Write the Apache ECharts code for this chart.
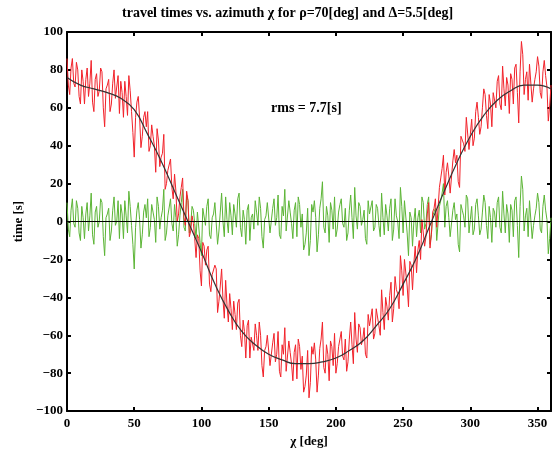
<!DOCTYPE html>
<html>
<head>
<meta charset="utf-8">
<script src="https://cdn.jsdelivr.net/npm/echarts@6/dist/echarts.min.js"></script>
<style>
  html, body { margin: 0; padding: 0; background: #fff; }
  #container { width: 560px; height: 453px; }
</style>
</head>
<body>
<div id="container"></div>
<script>
// observed travel times (red) at even azimuths 0,2,...,360
var observedEven = [
  86, 67, 86, 71, 80, 62, 74, 75, 66, 85,
  58, 78, 69, 79, 50, 72, 58, 73, 65, 77,
  74, 55, 66, 77, 58, 34, 63, 55, 45, 58,
  58, 40, 45, 26, 43, 34, 46, 20, 26, 18,
  25, 0, 13, 23, -2, 11, -5, -1, -19, -9,
  -34, -13, -15, -33, -28, -23, -48, -34, -41, -31,
  -53, -46, -42, -57, -41, -66, -58, -55, -72, -60,
  -54, -68, -60, -82, -66, -61, -76, -59, -70, -79,
  -65, -56, -78, -69, -84, -65, -62, -78, -90, -81,
  -93, -66, -64, -90, -67, -53, -80, -70, -63, -76,
  -80, -66, -58, -73, -79, -62, -65, -48, -69, -56,
  -62, -70, -49, -54, -62, -46, -55, -36, -57, -45,
  -39, -53, -29, -38, -18, -39, -20, -45, -23, -22,
  -27, -10, 1, -13, 4, -14, 5, 12, 7, 23,
  35, 26, 24, 16, 38, 35, 18, 43, 37, 54,
  46, 40, 58, 55, 50, 70, 56, 67, 50, 67,
  74, 62, 82, 61, 72, 78, 62, 83, 52, 95,
  67, 79, 83, 63, 75, 87, 68, 79, 77, 53,
  72
];
// observed travel times (red) at odd azimuths 1,3,...,359
var observedOdd = [
  72, 81, 73, 84, 66, 80, 62, 81, 73, 63,
  75, 66, 81, 60, 70, 75, 62, 80, 66, 57,
  68, 74, 56, 69, 47, 55, 66, 39, 55, 50,
  37, 51, 40, 49, 29, 36, 17, 27, 33, 12,
  16, 4, 18, 2, 16, -8, 3, -9, -7, -26,
  -11, -23, -13, -37, -27, -25, -42, -25, -51, -44,
  -38, -57, -49, -43, -60, -52, -72, -52, -61, -68,
  -60, -53, -76, -68, -60, -76, -64, -74, -58, -82,
  -70, -79, -63, -75, -69, -83, -66, -71, -87, -68,
  -85, -70, -73, -81, -62, -77, -65, -84, -66, -59,
  -75, -62, -71, -62, -74, -53, -75, -62, -54, -65,
  -56, -72, -55, -46, -59, -47, -60, -48, -40, -52,
  -32, -46, -36, -46, -26, -20, -34, -21, -36, -13,
  -15, -20, 0, -8, 10, -7, 7, -3, 18, 28,
  14, 31, 15, 32, 31, 21, 45, 41, 55, 38,
  54, 44, 63, 46, 60, 67, 49, 62, 68, 60,
  77, 59, 70, 76, 57, 75, 81, 68, 79, 88,
  75, 64, 84, 70, 79, 82, 65, 85, 71, 61
];

// residuals (green) at even azimuths
var residualEven = [
  10, -8, 12, -3, 7, -10, 2, 4, -5, 15,
  -12, 8, 0, 10, -18, 4, -10, 6, -2, 11,
  9, -9, 3, 16, -2, -25, 6, 1, -7, 9,
  12, -3, 5, -11, 8, 2, 17, -6, 4, -1,
  9, -13, 3, 17, -5, 11, -2, 6, -9, 4,
  -18, 6, 8, -7, 2, 10, -12, 5, 0, 13,
  -6, 3, 9, -3, 15, -8, 1, 6, -10, 4,
  11, -2, 7, -14, 3, 9, -5, 12, 2, -7,
  8, 17, -4, 5, -9, 10, 13, -3, -15, -6,
  -18, 9, 11, -16, 7, 21, -6, 3, 10, -4,
  -8, 5, 12, -3, -10, 6, 2, 18, -4, 8,
  1, -9, 11, 4, -5, 9, -2, 15, -7, 3,
  7, -10, 12, 0, 18, -6, 10, -18, 2, 0,
  -8, 6, 13, -4, 9, -12, 3, 7, -1, 11,
  20, 8, 2, -9, 10, 4, -16, 6, -3, 12,
  1, -7, 9, 3, -4, 14, -2, 8, -11, 5,
  10, -3, 16, -6, 4, 9, -8, 13, -19, 24,
  -5, 7, 11, -9, 3, 15, -4, 8, 6, -17,
  2
];
// residuals (green) at odd azimuths
var residualOdd = [
  -4, 6, -1, 11, -6, 8, -9, 10, 3, -7,
  5, -3, 12, -8, 2, 7, -5, 13, 0, -9,
  4, 11, -6, 8, -12, -3, 10, -14, 5, 2,
  -8, 9, 1, 13, -4, 6, -10, 3, 12, -5,
  2, -7, 10, -3, 14, -6, 8, -1, 5, -11,
  7, -2, 12, -9, 4, 9, -5, 15, -8, 1,
  10, -7, 4, 12, -3, 6, -12, 9, 2, -4,
  5, 13, -8, 1, 10, -6, 7, -2, 14, -9,
  3, -5, 11, -1, 6, -8, 9, 4, -12, 7,
  -10, 5, 2, -7, 12, -3, 8, -11, 6, 13,
  -4, 9, -1, 7, -6, 14, -9, 3, 10, -2,
  6, -12, 4, 11, -3, 7, -8, 2, 9, -5,
  12, -4, 3, -9, 8, 11, -6, 5, -13, 7,
  2, -6, 10, -1, 13, -7, 4, -10, 8, 15,
  -3, 11, -8, 6, 1, -12, 9, 3, 14, -6,
  8, -4, 12, -7, 5, 10, -9, 2, 7, -3,
  13, -6, 4, 9, -11, 6, 11, -2, 8, 17,
  3, -8, 12, -2, 7, 10, -6, 14, 1, -9
];

// model curve (black), 10 deg steps
var modelAz = [0, 10, 20, 30, 40, 50, 60, 70, 80, 90, 100, 110, 120, 130, 140, 150, 160, 170, 180,
  190, 200, 210, 220, 230, 240, 250, 260, 270, 280, 290, 300, 310, 320, 330, 340, 350, 360];
var modelTime = [76, 72, 70, 68, 65, 59, 46, 32, 16, 0, -16, -33, -47, -58, -65, -70, -73, -75, -75,
  -74, -72, -68, -63, -55, -46, -33, -19, -2, 15, 31, 45, 56, 64, 69, 72, 72, 70];

var xTicks = [0, 50, 100, 150, 200, 250, 300, 350];
var yTicks = [-100, -80, -60, -40, -20, 0, 20, 40, 60, 80, 100];

// put even / odd samples back in azimuth order
function merge(even, odd) {
  var out = [];
  for (var d = 0; d <= 360; d++) {
    out.push([d, d % 2 === 0 ? even[d / 2] : odd[(d - 1) / 2]]);
  }
  return out;
}
function pairs(xs, ys) {
  return xs.map(function (x, i) { return [x, ys[i]]; });
}

var serif = "'Liberation Serif', 'DejaVu Serif', serif";
var labelStyle = { fontFamily: serif, fontWeight: "bold", fontSize: 13, color: "#000" };

var dom = document.getElementById("container");
var myChart = echarts.init(dom, null, { renderer: "canvas" });

function xAx(pos, show) {
  return {
    type: "value", position: pos, min: 0, max: 360, interval: 50,
    axisLine: { show: true, onZero: false, lineStyle: { color: "#000", width: 2 } },
    axisTick: { show: true, inside: true, length: 4, lineStyle: { color: "#000", width: 2 } },
    axisLabel: Object.assign({ show: show, margin: 6,
      formatter: function (v) { return xTicks.indexOf(v) >= 0 ? String(v) : ""; } }, labelStyle),
    splitLine: { show: false },
    name: show ? "\u03c7 [deg]" : "", nameLocation: "middle", nameGap: 22,
    nameTextStyle: labelStyle
  };
}
function yAx(pos, show) {
  return {
    type: "value", position: pos, min: -100, max: 100, interval: 20,
    axisLine: { show: true, onZero: false, lineStyle: { color: "#000", width: 2 } },
    axisTick: { show: true, inside: true, length: 4, lineStyle: { color: "#000", width: 2 } },
    axisLabel: Object.assign({ show: show, margin: 4,
      formatter: function (v) { return yTicks.indexOf(v) >= 0 ? String(v).replace("-", "\u2212") : ""; } }, labelStyle),
    splitLine: { show: false },
    name: show ? "time [s]" : "", nameLocation: "middle", nameGap: 30,
    nameTextStyle: labelStyle
  };
}

var option = {
  animation: false,
  backgroundColor: "#fff",
  grid: { left: 67, right: 9, top: 32, bottom: 41 },
  xAxis: [xAx("bottom", true), xAx("top", false)],
  yAxis: [yAx("left", true), yAx("right", false)],
  graphic: [
    {
      type: "text", left: 122, top: 6,
      style: { text: "travel times vs. azimuth \u03c7 for \u03c1=70[deg] and \u0394=5.5[deg]",
        font: "bold 14px " + serif, fill: "#000" }
    },
    {
      type: "text", left: 271, top: 101,
      style: { text: "rms = 7.7[s]", font: "bold 14px " + serif, fill: "#000" }
    }
  ],
  series: [
    {
      name: "residual", type: "line", data: merge(residualEven, residualOdd),
      showSymbol: false, lineStyle: { color: "#5cb536", width: 1 },
      markLine: {
        silent: true, symbol: "none", label: { show: false },
        lineStyle: { color: "#000", width: 1, type: "solid" },
        data: [{ yAxis: 0 }]
      }
    },
    {
      name: "observed", type: "line", data: merge(observedEven, observedOdd),
      showSymbol: false, lineStyle: { color: "#f2222a", width: 1 }
    },
    {
      name: "model", type: "line", data: pairs(modelAz, modelTime),
      showSymbol: false, smooth: true, lineStyle: { color: "#333", width: 1.2 }
    }
  ]
};
if (option && typeof option === "object") {
  myChart.setOption(option, true);
}
</script>
</body>
</html>
